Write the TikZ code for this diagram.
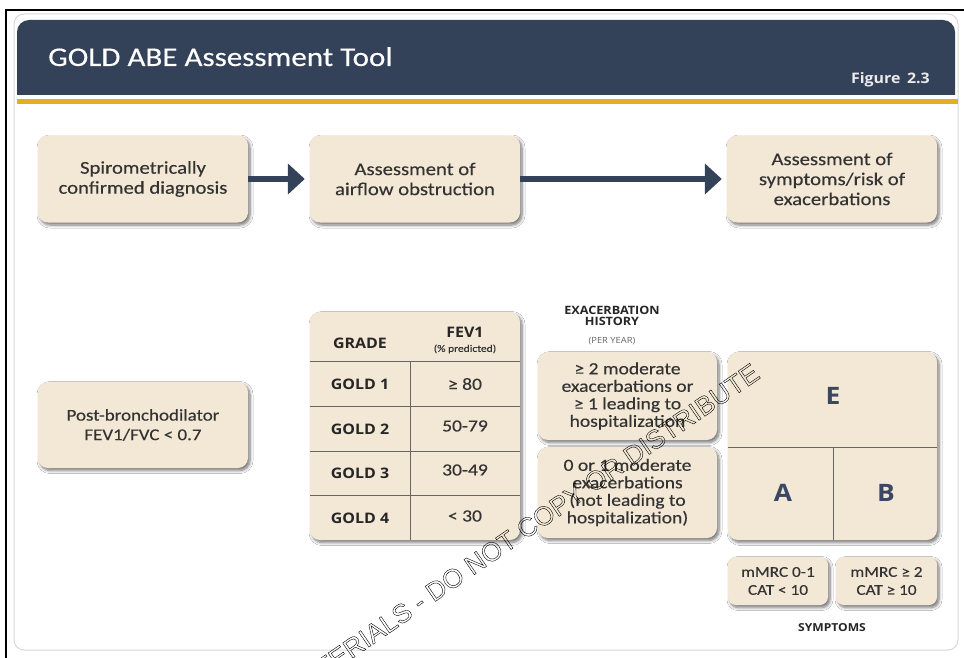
\documentclass[tikz,border=0pt]{standalone}
\usepackage{fontspec}
\setmainfont{Carlito}
\newfontfamily\bodyf[FakeStretch=1.15,FakeBold=0.35]{Carlito}
\newfontfamily\boldf[FakeStretch=1.1]{Open Sans}
\newfontfamily\wmf{Liberation Sans}
\usetikzlibrary{arrows.meta,shadows.blur}
\definecolor{navy}{HTML}{344259}
\definecolor{gold}{HTML}{E5AE22}
\definecolor{beige}{HTML}{F3E8D5}
\definecolor{txt}{HTML}{333333}
\definecolor{letter}{HTML}{3A4762}
\definecolor{slideedge}{HTML}{D8D8D8}
\tikzset{
  shad/.style={blur shadow={shadow xshift=2pt, shadow yshift=-2.5pt, shadow blur steps=6, shadow blur radius=3pt, shadow opacity=55}},
  box/.style={rounded corners=10pt, fill=beige, shad, align=center, text=txt, inner sep=0pt,
    font=\bodyf\fontsize{18}{20}\selectfont},
  topbox/.style={box, minimum width=210pt, minimum height=87pt},
  panel/.style={rounded corners=10pt, fill=beige, shad, inner sep=0pt},
  divider/.style={draw=black!60, line width=0.9pt},
  flow/.style={draw=navy, line width=5pt, -{Triangle[length=17pt,width=30pt]}, shorten >=5pt},
  cellb/.style={font=\boldf\bfseries\fontsize{14.5}{16}\selectfont, text=black!85, inner sep=0pt},
  cellv/.style={font=\bodyf\fontsize{17}{19}\selectfont, text=txt, inner sep=0pt},
  big/.style={font=\boldf\bfseries\fontsize{24}{26}\selectfont, text=letter, inner sep=0pt},
  caption/.style={font=\boldf\bfseries\fontsize{11.5}{13}\selectfont, text=black!85, inner sep=0pt, align=center},
}
\begin{document}
\begin{tikzpicture}[x=1pt,y=-1pt]
\useasboundingbox (0,0) rectangle (964,658);
% slide
\draw[slideedge, fill=white, rounded corners=10pt, line width=1pt] (14,14) rectangle (958,650);
\begin{scope}
  \clip (0,0) rectangle (964,95);
  \fill[navy, rounded corners=12pt] (17,20) rectangle (955,130);
\end{scope}
\fill[gold] (17,99) rectangle (958,104.5);
\node[anchor=base west, text=white, inner sep=0pt, font=\bodyf\fontsize{27}{30}\selectfont] (title) at (48,66) {GOLD ABE Assessment Tool};
\node[anchor=base east, text=white!92!black, inner sep=0pt, font=\boldf\bfseries\fontsize{14.5}{16}\selectfont] (fig) at (930,84) {Figure\hspace{0.45em}2.3};
% outer frame
\draw[black, line width=2pt] (6,658) -- (6,10) -- (964,10);

% top row
\node[topbox] (b1) at (143,179) {Spirometrically\\confirmed diagnosis};
\node[topbox] (b2) at (415,179) {Assessment of\\airflow obstruction};
\node[topbox] (b3) at (832,179) {Assessment of\\symptoms/risk of\\exacerbations};
\draw[flow] (b1) -- (b2);
\draw[flow] (b2) -- (b3);

% post-bronchodilator
\node[box, minimum width=210pt, minimum height=86pt, font=\bodyf\fontsize{16.5}{19.5}\selectfont] (post) at (143,425) {Post-bronchodilator\\FEV1/FVC < 0.7};

% table
\node[panel, minimum width=210pt, minimum height=228pt] (tbl) at (415,426) {};
\draw[divider] (310,361) -- (520,361);
\draw[divider] (310,406) -- (520,406);
\draw[divider] (310,451) -- (520,451);
\draw[divider] (310,495) -- (520,495);
\draw[divider] (410,361) -- (410,540);
\node[cellb] (hg) at (360,343) {GRADE};
\node[cellb] (hf) at (465,332) {FEV1};
\node[font=\bodyf\fontsize{10}{12}\selectfont, text=txt, inner sep=0pt] (hp) at (465,349) {(\% predicted)};
\node[cellb] (g1) at (360,384) {GOLD 1};
\node[cellb] (g2) at (360,429) {GOLD 2};
\node[cellb] (g3) at (360,473) {GOLD 3};
\node[cellb] (g4) at (360,518) {GOLD 4};
\node[cellv] (v1) at (465,384) {≥ 80};
\node[cellv] (v2) at (465,426) {50-79};
\node[cellv] (v3) at (465,470) {30-49};
\node[cellv] (v4) at (465,516) {< 30};

% exacerbation history
\node[caption] (eh) at (612,316) {EXACERBATION\\[-2pt]HISTORY};
\node[font=\boldf\fontsize{8.5}{10}\selectfont, text=black!60, inner sep=0pt] (py) at (612,341) {(PER YEAR)};
\node[box, minimum width=179pt, minimum height=88pt, font=\bodyf\fontsize{17}{17.5}\selectfont] (e1) at (627.5,396) {≥ 2 moderate\\exacerbations or\\≥ 1 leading to\\hospitalization};
\node[box, minimum width=179pt, minimum height=91pt, font=\bodyf\fontsize{17}{17.5}\selectfont] (e2) at (627.5,492.5) {0 or 1 moderate\\exacerbations\\(not leading to\\hospitalization)};

% ABE grid
\node[panel, minimum width=209pt, minimum height=188pt] (grid) at (832.5,446) {};
\draw[divider] (728,447) -- (937,447);
\draw[divider] (833,447) -- (833,540);
\node[big] (le) at (833,396) {E};
\node[big] (la) at (783,493) {A};
\node[big] (lb) at (886,493) {B};

% symptoms
\node[box, minimum width=100pt, minimum height=48pt, rounded corners=8pt, font=\bodyf\fontsize{15}{18}\selectfont] (s1) at (778,581) {mMRC 0-1\\CAT < 10};
\node[box, minimum width=101pt, minimum height=48pt, rounded corners=8pt, font=\bodyf\fontsize{15}{18}\selectfont] (s2) at (886.5,581) {mMRC ≥ 2\\CAT ≥ 10};
\node[caption, font=\boldf\bfseries\fontsize{11}{13}\selectfont] (sy) at (832,628) {SYMPTOMS};

% watermark
\begin{scope}
\clip (0,0) rectangle (964,658);
\node[rotate=34.5, anchor=base west, inner sep=0pt, text=black, font=\wmf\fontsize{26.5}{26.5}\selectfont] (wm) at (292,700)
  {\special{pdf:literal direct 1 Tr 0.4 w}MATERIALS - DO NOT COPY OR DISTRIBUTE\special{pdf:literal direct 0 Tr}};
\end{scope}
\end{tikzpicture}
\end{document}
